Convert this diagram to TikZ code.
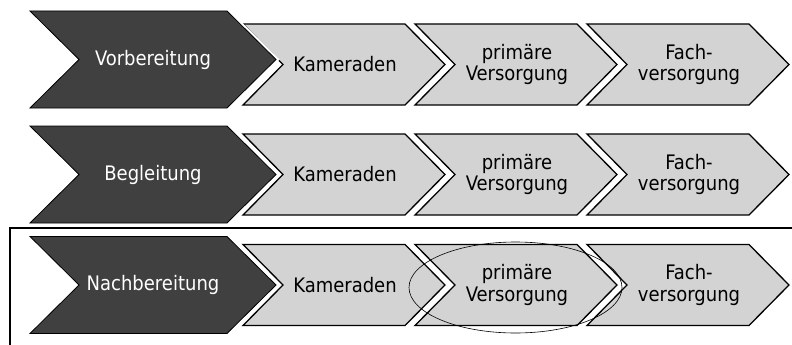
\documentclass[tikz,border=0pt]{standalone}
\usepackage{fontspec}
\setmainfont{DejaVu Sans Condensed}
\usetikzlibrary{shapes.geometric}
\definecolor{darkfill}{HTML}{404040}
\definecolor{lightfill}{HTML}{D3D3D3}
\tikzset{
  lightchev/.style={fill=lightfill, draw=black, line width=1.3pt, line join=miter},
  darkhalo/.style={draw=white, line width=5pt, line join=miter},
  darkchev/.style={fill=darkfill, draw=black, line width=0.8pt, line join=miter},
  lighttxt/.style={text=black, align=center, inner sep=0pt, font=\fontsize{20}{21.5}\selectfont},
  darktxt/.style={text=white, align=center, inner sep=0pt, font=\fontsize{20}{21.5}\selectfont},
  frameline/.style={draw=black, line width=1.3pt},
  focusmark/.style={draw=black, line width=0.6pt, ellipse, inner sep=0pt, minimum width=213pt, minimum height=91pt}
}
% x0, yc, w, h2, d
\newcommand{\chevshape}[6]{%
  \path[#6] (#1,#2-#4) -- (#1+#3-#5,#2-#4) -- (#1+#3,#2) -- (#1+#3-#5,#2+#4) -- (#1,#2+#4) -- (#1+#5,#2) -- cycle;}
\begin{document}
\begin{tikzpicture}[x=1pt,y=-1pt]
\useasboundingbox (0,0) rectangle (792,345);
\foreach \r/\dy/\ly/\lab in {1/59.5/64.5/Vorbereitung, 2/174.5/174.5/Begleitung, 3/285/285/Nachbereitung}{
  \chevshape{243}{\ly}{202}{40.5}{40}{lightchev}
  \chevshape{415}{\ly}{202}{40.5}{40}{lightchev}
  \chevshape{587}{\ly}{202}{40.5}{40}{lightchev}
  \chevshape{30}{\dy}{246}{48.5}{49}{darkhalo}
  \chevshape{30}{\dy}{246}{48.5}{49}{darkchev}
  \node[darktxt] (dark\r) at (153,\dy) {\lab};
  \node[lighttxt] (kam\r) at (345,\ly) {Kameraden};
  \node[lighttxt] (prim\r) at (517,\ly) {primäre\\Versorgung};
  \node[lighttxt] (fach\r) at (689,\ly) {Fach-\\versorgung};
}
\coordinate (fbot) at (10,346);
\coordinate (fright) at (793,228);
\draw[frameline] (fbot) |- (fright);
\node[focusmark] (focus) at (515.5,287.5) {};
\end{tikzpicture}
\end{document}
